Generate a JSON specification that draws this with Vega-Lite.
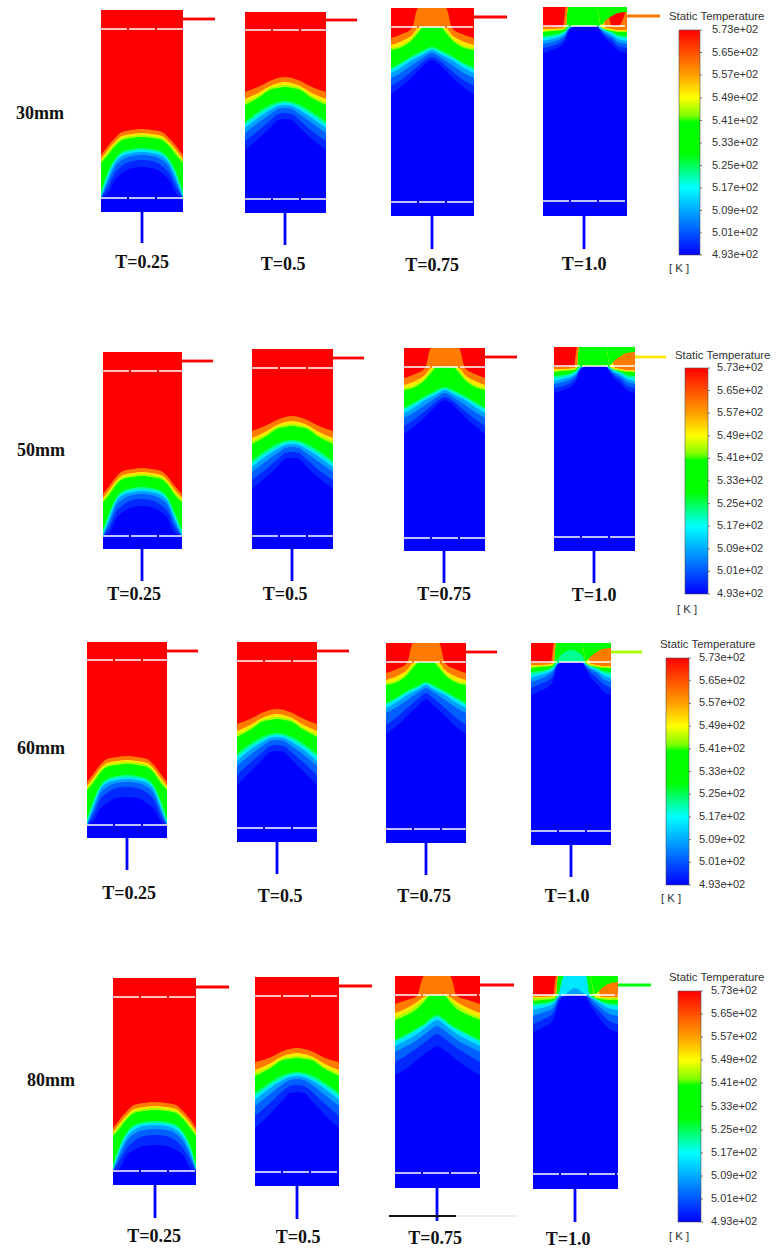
{
"$schema":"https://vega.github.io/schema/vega-lite/v6.json",
"width":782,"height":1250,"padding":0,
"autosize":{"type":"fit","contains":"padding"},
"background":"white",
"view":{"stroke":null},
"encoding":{
"x":{"field":"x","type":"quantitative","scale":{"domain":[0,782],"nice":false,"zero":false},"axis":null},
"y":{"field":"y","type":"quantitative","scale":{"domain":[0,1250],"reverse":true,"nice":false,"zero":false},"axis":null}
},
"layer":[
{"mark":{"type":"rect","color":"#0000ff"},
"data":{"values":[
{"x":101,"x2":183,"y":10,"y2":212},{"x":245,"x2":326,"y":12,"y2":213},{"x":391,"x2":474,"y":8,"y2":216},{"x":543,"x2":627,"y":7,"y2":216},
{"x":103,"x2":182,"y":352,"y2":549},{"x":252,"x2":333,"y":349,"y2":549},{"x":404,"x2":485,"y":348,"y2":551},{"x":554,"x2":635,"y":347,"y2":551},
{"x":87,"x2":167,"y":642,"y2":838},{"x":237,"x2":317,"y":642,"y2":842},{"x":386,"x2":466,"y":643,"y2":843},{"x":531,"x2":611,"y":643,"y2":845},
{"x":113,"x2":196,"y":978,"y2":1185},{"x":255,"x2":339,"y":977,"y2":1186},{"x":395,"x2":480,"y":976,"y2":1188},{"x":533,"x2":618,"y":976,"y2":1189}
]},
"encoding":{"x2":{"field":"x2"},"y2":{"field":"y2"}}},
{"mark":{"type":"area","interpolate":"monotone"},
"data":{"values":[
{"p":"a1","x":101,"top":10,"t500":198,"t507":198,"t514":198,"t520":197,"t526":196,"t535":192,"t546":163,"t552":161,"t560":159,"t573":155},
{"p":"a1","x":108,"top":10,"t500":193,"t507":187,"t514":182,"t520":178,"t526":175,"t535":172,"t546":155,"t552":152,"t560":150,"t573":146},
{"p":"a1","x":115,"top":10,"t500":180,"t507":173,"t514":167,"t520":163,"t526":161,"t535":159,"t546":146,"t552":144,"t560":142,"t573":138},
{"p":"a1","x":122,"top":10,"t500":173,"t507":166,"t514":160,"t520":156,"t526":154,"t535":152,"t546":140,"t552":138,"t560":136,"t573":132},
{"p":"a1","x":132,"top":10,"t500":168,"t507":161,"t514":156,"t520":153,"t526":151,"t535":149,"t546":138,"t552":136,"t560":134,"t573":130},
{"p":"a1","x":142,"top":10,"t500":167,"t507":160,"t514":155,"t520":152,"t526":150,"t535":148,"t546":137,"t552":135,"t560":133,"t573":129},
{"p":"a1","x":152,"top":10,"t500":168,"t507":161,"t514":156,"t520":153,"t526":151,"t535":149,"t546":138,"t552":136,"t560":134,"t573":130},
{"p":"a1","x":162,"top":10,"t500":173,"t507":166,"t514":160,"t520":156,"t526":154,"t535":152,"t546":140,"t552":138,"t560":136,"t573":132},
{"p":"a1","x":169,"top":10,"t500":180,"t507":173,"t514":167,"t520":163,"t526":161,"t535":159,"t546":146,"t552":144,"t560":142,"t573":138},
{"p":"a1","x":176,"top":10,"t500":193,"t507":187,"t514":182,"t520":178,"t526":175,"t535":172,"t546":155,"t552":152,"t560":150,"t573":146},
{"p":"a1","x":183,"top":10,"t500":198,"t507":198,"t514":198,"t520":197,"t526":196,"t535":192,"t546":163,"t552":161,"t560":159,"t573":155},
{"p":"b1","x":103,"top":352,"t500":536,"t507":536,"t514":536,"t520":535,"t526":534,"t535":530,"t546":502,"t552":500,"t560":498,"t573":494},
{"p":"b1","x":110,"top":352,"t500":532,"t507":526,"t514":521,"t520":517,"t526":514,"t535":511,"t546":494,"t552":491,"t560":489,"t573":485},
{"p":"b1","x":116,"top":352,"t500":519,"t507":512,"t514":506,"t520":502,"t526":500,"t535":498,"t546":485,"t552":483,"t560":481,"t573":477},
{"p":"b1","x":123,"top":352,"t500":512,"t507":505,"t514":499,"t520":495,"t526":493,"t535":491,"t546":479,"t552":477,"t560":475,"t573":471},
{"p":"b1","x":133,"top":352,"t500":507,"t507":500,"t514":495,"t520":492,"t526":490,"t535":488,"t546":477,"t552":475,"t560":473,"t573":469},
{"p":"b1","x":142,"top":352,"t500":506,"t507":499,"t514":494,"t520":491,"t526":489,"t535":487,"t546":476,"t552":474,"t560":472,"t573":468},
{"p":"b1","x":151,"top":352,"t500":507,"t507":500,"t514":495,"t520":492,"t526":490,"t535":488,"t546":477,"t552":475,"t560":473,"t573":469},
{"p":"b1","x":161,"top":352,"t500":512,"t507":505,"t514":499,"t520":495,"t526":493,"t535":491,"t546":479,"t552":477,"t560":475,"t573":471},
{"p":"b1","x":168,"top":352,"t500":519,"t507":512,"t514":506,"t520":502,"t526":500,"t535":498,"t546":485,"t552":483,"t560":481,"t573":477},
{"p":"b1","x":174,"top":352,"t500":532,"t507":526,"t514":521,"t520":517,"t526":514,"t535":511,"t546":494,"t552":491,"t560":489,"t573":485},
{"p":"b1","x":182,"top":352,"t500":536,"t507":536,"t514":536,"t520":535,"t526":534,"t535":530,"t546":502,"t552":500,"t560":498,"t573":494},
{"p":"c1","x":87,"top":642,"t500":825,"t507":825,"t514":825,"t520":824,"t526":823,"t535":819,"t546":790,"t552":788,"t560":786,"t573":782},
{"p":"c1","x":94,"top":642,"t500":820,"t507":814,"t514":809,"t520":805,"t526":802,"t535":799,"t546":782,"t552":779,"t560":777,"t573":773},
{"p":"c1","x":100,"top":642,"t500":809,"t507":800,"t514":794,"t520":790,"t526":788,"t535":786,"t546":773,"t552":771,"t560":769,"t573":765},
{"p":"c1","x":107,"top":642,"t500":803,"t507":793,"t514":787,"t520":783,"t526":781,"t535":779,"t546":767,"t552":765,"t560":763,"t573":759},
{"p":"c1","x":117,"top":642,"t500":798,"t507":788,"t514":783,"t520":780,"t526":778,"t535":776,"t546":765,"t552":763,"t560":761,"t573":757},
{"p":"c1","x":127,"top":642,"t500":797,"t507":787,"t514":782,"t520":779,"t526":777,"t535":775,"t546":764,"t552":762,"t560":760,"t573":756},
{"p":"c1","x":137,"top":642,"t500":798,"t507":788,"t514":783,"t520":780,"t526":778,"t535":776,"t546":765,"t552":763,"t560":761,"t573":757},
{"p":"c1","x":147,"top":642,"t500":803,"t507":793,"t514":787,"t520":783,"t526":781,"t535":779,"t546":767,"t552":765,"t560":763,"t573":759},
{"p":"c1","x":154,"top":642,"t500":809,"t507":800,"t514":794,"t520":790,"t526":788,"t535":786,"t546":773,"t552":771,"t560":769,"t573":765},
{"p":"c1","x":160,"top":642,"t500":820,"t507":814,"t514":809,"t520":805,"t526":802,"t535":799,"t546":782,"t552":779,"t560":777,"t573":773},
{"p":"c1","x":167,"top":642,"t500":825,"t507":825,"t514":825,"t520":824,"t526":823,"t535":819,"t546":790,"t552":788,"t560":786,"t573":782},
{"p":"d1","x":113,"top":978,"t500":1171,"t507":1171,"t514":1171,"t520":1170,"t526":1169,"t535":1165,"t546":1136,"t552":1134,"t560":1132,"t573":1128},
{"p":"d1","x":120,"top":978,"t500":1168,"t507":1160,"t514":1155,"t520":1151,"t526":1148,"t535":1145,"t546":1128,"t552":1125,"t560":1123,"t573":1119},
{"p":"d1","x":127,"top":978,"t500":1155,"t507":1148,"t514":1141,"t520":1137,"t526":1134,"t535":1132,"t546":1119,"t552":1117,"t560":1115,"t573":1111},
{"p":"d1","x":134,"top":978,"t500":1150,"t507":1141,"t514":1134,"t520":1130,"t526":1127,"t535":1125,"t546":1113,"t552":1111,"t560":1109,"t573":1105},
{"p":"d1","x":144,"top":978,"t500":1146,"t507":1136,"t514":1130,"t520":1126,"t526":1124,"t535":1122,"t546":1111,"t552":1109,"t560":1107,"t573":1103},
{"p":"d1","x":155,"top":978,"t500":1145,"t507":1135,"t514":1129,"t520":1125,"t526":1123,"t535":1121,"t546":1110,"t552":1108,"t560":1106,"t573":1102},
{"p":"d1","x":166,"top":978,"t500":1146,"t507":1136,"t514":1130,"t520":1126,"t526":1124,"t535":1122,"t546":1111,"t552":1109,"t560":1107,"t573":1103},
{"p":"d1","x":176,"top":978,"t500":1150,"t507":1141,"t514":1134,"t520":1130,"t526":1127,"t535":1125,"t546":1113,"t552":1111,"t560":1109,"t573":1105},
{"p":"d1","x":183,"top":978,"t500":1155,"t507":1148,"t514":1141,"t520":1137,"t526":1134,"t535":1132,"t546":1119,"t552":1117,"t560":1115,"t573":1111},
{"p":"d1","x":190,"top":978,"t500":1168,"t507":1160,"t514":1155,"t520":1151,"t526":1148,"t535":1145,"t546":1128,"t552":1125,"t560":1123,"t573":1119},
{"p":"d1","x":196,"top":978,"t500":1171,"t507":1171,"t514":1171,"t520":1170,"t526":1169,"t535":1165,"t546":1136,"t552":1134,"t560":1132,"t573":1128},
{"p":"a2","x":245,"top":12,"t500":150,"t507":141,"t514":133,"t520":128,"t526":125,"t535":122,"t546":105,"t552":102,"t560":99,"t573":92},
{"p":"a2","x":258,"top":12,"t500":139,"t507":131,"t514":123,"t520":118,"t526":115,"t535":112,"t546":98,"t552":96,"t560":93,"t573":87},
{"p":"a2","x":272,"top":12,"t500":126,"t507":119,"t514":113,"t520":109,"t526":107,"t535":104,"t546":89,"t552":87,"t560":85,"t573":80},
{"p":"a2","x":278,"top":12,"t500":120,"t507":114,"t514":109,"t520":106,"t526":104,"t535":102,"t546":88,"t552":86,"t560":83,"t573":78},
{"p":"a2","x":285,"top":12,"t500":119,"t507":113,"t514":108,"t520":105,"t526":103,"t535":101,"t546":87,"t552":85,"t560":82,"t573":77},
{"p":"a2","x":292,"top":12,"t500":120,"t507":114,"t514":109,"t520":106,"t526":104,"t535":102,"t546":88,"t552":86,"t560":83,"t573":78},
{"p":"a2","x":298,"top":12,"t500":126,"t507":119,"t514":113,"t520":109,"t526":107,"t535":104,"t546":89,"t552":87,"t560":85,"t573":80},
{"p":"a2","x":312,"top":12,"t500":139,"t507":131,"t514":123,"t520":118,"t526":115,"t535":112,"t546":98,"t552":96,"t560":93,"t573":87},
{"p":"a2","x":326,"top":12,"t500":150,"t507":141,"t514":133,"t520":128,"t526":125,"t535":122,"t546":105,"t552":102,"t560":99,"t573":92},
{"p":"b2","x":252,"top":349,"t500":489,"t507":480,"t514":472,"t520":467,"t526":464,"t535":461,"t546":444,"t552":441,"t560":438,"t573":431},
{"p":"b2","x":265,"top":349,"t500":478,"t507":470,"t514":462,"t520":457,"t526":454,"t535":451,"t546":437,"t552":435,"t560":432,"t573":426},
{"p":"b2","x":279,"top":349,"t500":465,"t507":458,"t514":452,"t520":448,"t526":446,"t535":443,"t546":428,"t552":426,"t560":424,"t573":419},
{"p":"b2","x":285,"top":349,"t500":459,"t507":453,"t514":448,"t520":445,"t526":443,"t535":441,"t546":427,"t552":425,"t560":422,"t573":417},
{"p":"b2","x":292,"top":349,"t500":458,"t507":452,"t514":447,"t520":444,"t526":442,"t535":440,"t546":426,"t552":424,"t560":421,"t573":416},
{"p":"b2","x":299,"top":349,"t500":459,"t507":453,"t514":448,"t520":445,"t526":443,"t535":441,"t546":427,"t552":425,"t560":422,"t573":417},
{"p":"b2","x":305,"top":349,"t500":465,"t507":458,"t514":452,"t520":448,"t526":446,"t535":443,"t546":428,"t552":426,"t560":424,"t573":419},
{"p":"b2","x":319,"top":349,"t500":478,"t507":470,"t514":462,"t520":457,"t526":454,"t535":451,"t546":437,"t552":435,"t560":432,"t573":426},
{"p":"b2","x":333,"top":349,"t500":489,"t507":480,"t514":472,"t520":467,"t526":464,"t535":461,"t546":444,"t552":441,"t560":438,"t573":431},
{"p":"c2","x":237,"top":642,"t500":785,"t507":775,"t514":766,"t520":761,"t526":757,"t535":754,"t546":737,"t552":734,"t560":731,"t573":724},
{"p":"c2","x":250,"top":642,"t500":772,"t507":763,"t514":755,"t520":750,"t526":747,"t535":744,"t546":730,"t552":728,"t560":725,"t573":719},
{"p":"c2","x":264,"top":642,"t500":758,"t507":751,"t514":745,"t520":741,"t526":739,"t535":736,"t546":721,"t552":719,"t560":717,"t573":712},
{"p":"c2","x":270,"top":642,"t500":752,"t507":746,"t514":741,"t520":738,"t526":736,"t535":734,"t546":720,"t552":718,"t560":715,"t573":710},
{"p":"c2","x":277,"top":642,"t500":751,"t507":745,"t514":740,"t520":737,"t526":735,"t535":733,"t546":719,"t552":717,"t560":714,"t573":709},
{"p":"c2","x":284,"top":642,"t500":752,"t507":746,"t514":741,"t520":738,"t526":736,"t535":734,"t546":720,"t552":718,"t560":715,"t573":710},
{"p":"c2","x":290,"top":642,"t500":758,"t507":751,"t514":745,"t520":741,"t526":739,"t535":736,"t546":721,"t552":719,"t560":717,"t573":712},
{"p":"c2","x":304,"top":642,"t500":772,"t507":763,"t514":755,"t520":750,"t526":747,"t535":744,"t546":730,"t552":728,"t560":725,"t573":719},
{"p":"c2","x":317,"top":642,"t500":785,"t507":775,"t514":766,"t520":761,"t526":757,"t535":754,"t546":737,"t552":734,"t560":731,"t573":724},
{"p":"d2","x":255,"top":977,"t500":1128,"t507":1116,"t514":1106,"t520":1100,"t526":1096,"t535":1093,"t546":1076,"t552":1073,"t560":1070,"t573":1062},
{"p":"d2","x":269,"top":977,"t500":1115,"t507":1104,"t514":1095,"t520":1089,"t526":1086,"t535":1083,"t546":1069,"t552":1067,"t560":1064,"t573":1058},
{"p":"d2","x":283,"top":977,"t500":1100,"t507":1091,"t514":1084,"t520":1080,"t526":1078,"t535":1075,"t546":1060,"t552":1058,"t560":1056,"t573":1051},
{"p":"d2","x":290,"top":977,"t500":1093,"t507":1086,"t514":1080,"t520":1077,"t526":1075,"t535":1073,"t546":1059,"t552":1057,"t560":1054,"t573":1049},
{"p":"d2","x":297,"top":977,"t500":1092,"t507":1085,"t514":1079,"t520":1076,"t526":1074,"t535":1072,"t546":1058,"t552":1056,"t560":1053,"t573":1048},
{"p":"d2","x":304,"top":977,"t500":1093,"t507":1086,"t514":1080,"t520":1077,"t526":1075,"t535":1073,"t546":1059,"t552":1057,"t560":1054,"t573":1049},
{"p":"d2","x":311,"top":977,"t500":1100,"t507":1091,"t514":1084,"t520":1080,"t526":1078,"t535":1075,"t546":1060,"t552":1058,"t560":1056,"t573":1051},
{"p":"d2","x":325,"top":977,"t500":1115,"t507":1104,"t514":1095,"t520":1089,"t526":1086,"t535":1083,"t546":1069,"t552":1067,"t560":1064,"t573":1058},
{"p":"d2","x":339,"top":977,"t500":1128,"t507":1116,"t514":1106,"t520":1100,"t526":1096,"t535":1093,"t546":1076,"t552":1073,"t560":1070,"t573":1062},
{"p":"a3","x":391,"top":8,"t500":94,"t507":86,"t514":78,"t520":73,"t526":70,"t535":68,"t546":50,"t552":48,"t560":45,"t573":38},
{"p":"a3","x":402,"top":8,"t500":86,"t507":79,"t514":72,"t520":67,"t526":64,"t535":62,"t546":47,"t552":45,"t560":41,"t573":34},
{"p":"a3","x":412,"top":8,"t500":77,"t507":71,"t514":65,"t520":60,"t526":58,"t535":56,"t546":40,"t552":38,"t560":35,"t573":28},
{"p":"a3","x":418,"top":8,"t500":71,"t507":66,"t514":61,"t520":57,"t526":55,"t535":53,"t546":33,"t552":30,"t560":28,"t573":8},
{"p":"a3","x":424,"top":8,"t500":65,"t507":61,"t514":57,"t520":54,"t526":52,"t535":50,"t546":27,"t552":27,"t560":27,"t573":8},
{"p":"a3","x":432,"top":8,"t500":60,"t507":57,"t514":53,"t520":50,"t526":49,"t535":47,"t546":27,"t552":27,"t560":27,"t573":8},
{"p":"a3","x":440,"top":8,"t500":65,"t507":61,"t514":57,"t520":54,"t526":52,"t535":50,"t546":27,"t552":27,"t560":27,"t573":8},
{"p":"a3","x":446,"top":8,"t500":71,"t507":66,"t514":61,"t520":57,"t526":55,"t535":53,"t546":33,"t552":30,"t560":28,"t573":8},
{"p":"a3","x":452,"top":8,"t500":77,"t507":71,"t514":65,"t520":60,"t526":58,"t535":56,"t546":40,"t552":38,"t560":35,"t573":28},
{"p":"a3","x":462,"top":8,"t500":86,"t507":79,"t514":72,"t520":67,"t526":64,"t535":62,"t546":47,"t552":45,"t560":41,"t573":34},
{"p":"a3","x":474,"top":8,"t500":94,"t507":86,"t514":78,"t520":73,"t526":70,"t535":68,"t546":50,"t552":48,"t560":45,"t573":38},
{"p":"b3","x":404,"top":348,"t500":434,"t507":426,"t514":418,"t520":413,"t526":410,"t535":408,"t546":390,"t552":388,"t560":385,"t573":378},
{"p":"b3","x":415,"top":348,"t500":426,"t507":419,"t514":412,"t520":407,"t526":404,"t535":402,"t546":387,"t552":385,"t560":381,"t573":374},
{"p":"b3","x":425,"top":348,"t500":417,"t507":411,"t514":405,"t520":400,"t526":398,"t535":396,"t546":380,"t552":378,"t560":375,"t573":368},
{"p":"b3","x":431,"top":348,"t500":411,"t507":406,"t514":401,"t520":397,"t526":395,"t535":393,"t546":373,"t552":370,"t560":368,"t573":348},
{"p":"b3","x":437,"top":348,"t500":405,"t507":401,"t514":397,"t520":394,"t526":392,"t535":390,"t546":367,"t552":367,"t560":367,"t573":348},
{"p":"b3","x":445,"top":348,"t500":400,"t507":397,"t514":393,"t520":390,"t526":389,"t535":387,"t546":367,"t552":367,"t560":367,"t573":348},
{"p":"b3","x":453,"top":348,"t500":405,"t507":401,"t514":397,"t520":394,"t526":392,"t535":390,"t546":367,"t552":367,"t560":367,"t573":348},
{"p":"b3","x":459,"top":348,"t500":411,"t507":406,"t514":401,"t520":397,"t526":395,"t535":393,"t546":373,"t552":370,"t560":368,"t573":348},
{"p":"b3","x":465,"top":348,"t500":417,"t507":411,"t514":405,"t520":400,"t526":398,"t535":396,"t546":380,"t552":378,"t560":375,"t573":368},
{"p":"b3","x":475,"top":348,"t500":426,"t507":419,"t514":412,"t520":407,"t526":404,"t535":402,"t546":387,"t552":385,"t560":381,"t573":374},
{"p":"b3","x":485,"top":348,"t500":434,"t507":426,"t514":418,"t520":413,"t526":410,"t535":408,"t546":390,"t552":388,"t560":385,"t573":378},
{"p":"c3","x":386,"top":643,"t500":734,"t507":725,"t514":713,"t520":708,"t526":705,"t535":703,"t546":685,"t552":683,"t560":680,"t573":673},
{"p":"c3","x":397,"top":643,"t500":726,"t507":717,"t514":707,"t520":702,"t526":699,"t535":697,"t546":682,"t552":680,"t560":676,"t573":669},
{"p":"c3","x":407,"top":643,"t500":716,"t507":708,"t514":700,"t520":695,"t526":693,"t535":691,"t546":675,"t552":673,"t560":670,"t573":663},
{"p":"c3","x":413,"top":643,"t500":710,"t507":703,"t514":696,"t520":692,"t526":690,"t535":688,"t546":668,"t552":665,"t560":663,"t573":643},
{"p":"c3","x":419,"top":643,"t500":705,"t507":698,"t514":692,"t520":689,"t526":687,"t535":685,"t546":662,"t552":662,"t560":662,"t573":643},
{"p":"c3","x":426,"top":643,"t500":699,"t507":693,"t514":688,"t520":685,"t526":684,"t535":682,"t546":662,"t552":662,"t560":662,"t573":643},
{"p":"c3","x":433,"top":643,"t500":705,"t507":698,"t514":692,"t520":689,"t526":687,"t535":685,"t546":662,"t552":662,"t560":662,"t573":643},
{"p":"c3","x":439,"top":643,"t500":710,"t507":703,"t514":696,"t520":692,"t526":690,"t535":688,"t546":668,"t552":665,"t560":663,"t573":643},
{"p":"c3","x":445,"top":643,"t500":716,"t507":708,"t514":700,"t520":695,"t526":693,"t535":691,"t546":675,"t552":673,"t560":670,"t573":663},
{"p":"c3","x":455,"top":643,"t500":726,"t507":717,"t514":707,"t520":702,"t526":699,"t535":697,"t546":682,"t552":680,"t560":676,"t573":669},
{"p":"c3","x":466,"top":643,"t500":734,"t507":725,"t514":713,"t520":708,"t526":705,"t535":703,"t546":685,"t552":683,"t560":680,"t573":673},
{"p":"d3","x":395,"top":976,"t500":1075,"t507":1062,"t514":1052,"t520":1046,"t526":1042,"t535":1040,"t546":1020,"t552":1017,"t560":1013,"t573":1004},
{"p":"d3","x":407,"top":976,"t500":1068,"t507":1055,"t514":1046,"t520":1040,"t526":1036,"t535":1034,"t546":1015,"t552":1012,"t560":1008,"t573":1000},
{"p":"d3","x":417,"top":976,"t500":1060,"t507":1048,"t514":1040,"t520":1034,"t526":1030,"t535":1028,"t546":1009,"t552":1005,"t560":1002,"t573":996},
{"p":"d3","x":424,"top":976,"t500":1054,"t507":1043,"t514":1035,"t520":1029,"t526":1026,"t535":1024,"t546":1002,"t552":999,"t560":997,"t573":976},
{"p":"d3","x":430,"top":976,"t500":1050,"t507":1038,"t514":1030,"t520":1024,"t526":1021,"t535":1019,"t546":995,"t552":995,"t560":995,"t573":976},
{"p":"d3","x":437,"top":976,"t500":1046,"t507":1034,"t514":1026,"t520":1020,"t526":1017,"t535":1015,"t546":995,"t552":995,"t560":995,"t573":976},
{"p":"d3","x":444,"top":976,"t500":1050,"t507":1038,"t514":1030,"t520":1024,"t526":1021,"t535":1019,"t546":995,"t552":995,"t560":995,"t573":976},
{"p":"d3","x":450,"top":976,"t500":1054,"t507":1043,"t514":1035,"t520":1029,"t526":1026,"t535":1024,"t546":1002,"t552":999,"t560":997,"t573":976},
{"p":"d3","x":457,"top":976,"t500":1060,"t507":1048,"t514":1040,"t520":1034,"t526":1030,"t535":1028,"t546":1009,"t552":1005,"t560":1002,"t573":996},
{"p":"d3","x":468,"top":976,"t500":1068,"t507":1055,"t514":1046,"t520":1040,"t526":1036,"t535":1034,"t546":1015,"t552":1012,"t560":1008,"t573":1000},
{"p":"d3","x":480,"top":976,"t500":1075,"t507":1062,"t514":1052,"t520":1046,"t526":1042,"t535":1040,"t546":1020,"t552":1017,"t560":1013,"t573":1004},
{"p":"a4","x":543,"top":7,"t500":53,"t507":48,"t514":44,"t520":41,"t526":38,"t535":36,"t546":32,"t552":31,"t560":29,"t573":27,"t535b":7},
{"p":"a4","x":552,"top":7,"t500":50,"t507":46,"t514":42,"t520":39,"t526":37,"t535":35,"t546":31,"t552":30,"t560":29,"t573":27,"t535b":7},
{"p":"a4","x":563,"top":7,"t500":44,"t507":40,"t514":37,"t520":35,"t526":33,"t535":32,"t546":30,"t552":29,"t560":28,"t573":26,"t535b":7},
{"p":"a4","x":566,"top":7,"t500":39,"t507":36,"t514":34,"t520":32,"t526":31,"t535":30,"t546":28,"t552":27,"t560":26,"t573":7,"t535b":7},
{"p":"a4","x":568,"top":7,"t500":33,"t507":31,"t514":30,"t520":29,"t526":28,"t535":27,"t546":7,"t552":7,"t560":7,"t573":7,"t535b":7},
{"p":"a4","x":574,"top":7,"t500":27,"t507":26,"t514":26,"t520":26,"t526":26,"t535":26,"t546":7,"t552":7,"t560":7,"t573":7,"t535b":7},
{"p":"a4","x":585,"top":7,"t500":26,"t507":26,"t514":26,"t520":26,"t526":26,"t535":26,"t546":7,"t552":7,"t560":7,"t573":7,"t535b":7},
{"p":"a4","x":597,"top":7,"t500":27,"t507":26,"t514":26,"t520":26,"t526":26,"t535":26,"t546":7,"t552":7,"t560":7,"t573":7,"t535b":7},
{"p":"a4","x":601,"top":7,"t500":33,"t507":31,"t514":30,"t520":29,"t526":28,"t535":27,"t546":27,"t552":26,"t560":7,"t573":7,"t535b":25},
{"p":"a4","x":606,"top":7,"t500":39,"t507":36,"t514":34,"t520":32,"t526":31,"t535":30,"t546":30,"t552":29,"t560":28,"t573":7,"t535b":20},
{"p":"a4","x":612,"top":7,"t500":44,"t507":40,"t514":37,"t520":35,"t526":33,"t535":32,"t546":31,"t552":30,"t560":29,"t573":26,"t535b":16},
{"p":"a4","x":618,"top":7,"t500":50,"t507":46,"t514":42,"t520":39,"t526":37,"t535":35,"t546":32,"t552":31,"t560":30,"t573":26,"t535b":13},
{"p":"a4","x":627,"top":7,"t500":53,"t507":48,"t514":44,"t520":41,"t526":38,"t535":36,"t546":32,"t552":31,"t560":30,"t573":7,"t535b":12},
{"p":"b4","x":554,"top":347,"t500":393,"t507":388,"t514":384,"t520":381,"t526":378,"t535":376,"t546":372,"t552":371,"t560":369,"t573":367,"t535b":347},
{"p":"b4","x":563,"top":347,"t500":390,"t507":386,"t514":382,"t520":379,"t526":377,"t535":375,"t546":371,"t552":370,"t560":369,"t573":367,"t535b":347},
{"p":"b4","x":574,"top":347,"t500":384,"t507":380,"t514":377,"t520":375,"t526":373,"t535":372,"t546":370,"t552":369,"t560":368,"t573":366,"t535b":347},
{"p":"b4","x":577,"top":347,"t500":379,"t507":376,"t514":374,"t520":372,"t526":371,"t535":370,"t546":368,"t552":367,"t560":366,"t573":347,"t535b":347},
{"p":"b4","x":579,"top":347,"t500":373,"t507":371,"t514":370,"t520":369,"t526":368,"t535":367,"t546":347,"t552":347,"t560":347,"t573":347,"t535b":347},
{"p":"b4","x":585,"top":347,"t500":367,"t507":366,"t514":366,"t520":366,"t526":366,"t535":366,"t546":347,"t552":347,"t560":347,"t573":347,"t535b":347},
{"p":"b4","x":595,"top":347,"t500":366,"t507":366,"t514":366,"t520":366,"t526":366,"t535":366,"t546":347,"t552":347,"t560":347,"t573":347,"t535b":347},
{"p":"b4","x":606,"top":347,"t500":367,"t507":366,"t514":366,"t520":366,"t526":366,"t535":366,"t546":347,"t552":347,"t560":347,"t573":347,"t535b":347},
{"p":"b4","x":610,"top":347,"t500":373,"t507":371,"t514":370,"t520":369,"t526":368,"t535":367,"t546":367,"t552":366,"t560":347,"t573":347,"t535b":365},
{"p":"b4","x":615,"top":347,"t500":379,"t507":376,"t514":374,"t520":372,"t526":371,"t535":370,"t546":370,"t552":369,"t560":368,"t573":347,"t535b":360},
{"p":"b4","x":621,"top":347,"t500":384,"t507":380,"t514":377,"t520":375,"t526":373,"t535":372,"t546":371,"t552":370,"t560":369,"t573":347,"t535b":356},
{"p":"b4","x":627,"top":347,"t500":390,"t507":386,"t514":382,"t520":379,"t526":377,"t535":375,"t546":372,"t552":371,"t560":370,"t573":347,"t535b":353},
{"p":"b4","x":635,"top":347,"t500":393,"t507":388,"t514":384,"t520":381,"t526":378,"t535":376,"t546":372,"t552":371,"t560":370,"t573":347,"t535b":352},
{"p":"c4","x":531,"top":643,"t500":695,"t507":688,"t514":682,"t520":678,"t526":675,"t535":672,"t546":668,"t552":667,"t560":665,"t573":663,"t535b":643},
{"p":"c4","x":540,"top":643,"t500":691,"t507":684,"t514":679,"t520":675,"t526":673,"t535":671,"t546":667,"t552":666,"t560":665,"t573":663,"t535b":643},
{"p":"c4","x":551,"top":643,"t500":684,"t507":678,"t514":673,"t520":671,"t526":669,"t535":668,"t546":666,"t552":665,"t560":664,"t573":662,"t535b":643},
{"p":"c4","x":554,"top":643,"t500":678,"t507":673,"t514":670,"t520":668,"t526":667,"t535":666,"t546":664,"t552":663,"t560":662,"t573":643,"t535b":643},
{"p":"c4","x":556,"top":643,"t500":670,"t507":667,"t514":666,"t520":665,"t526":664,"t535":663,"t546":643,"t552":643,"t560":643,"t573":643,"t535b":643},
{"p":"c4","x":561,"top":643,"t500":663,"t507":662,"t514":662,"t520":662,"t526":662,"t535":655,"t546":643,"t552":643,"t560":643,"t573":643,"t535b":643},
{"p":"c4","x":571,"top":643,"t500":662,"t507":662,"t514":662,"t520":662,"t526":662,"t535":650,"t546":643,"t552":643,"t560":643,"t573":643,"t535b":643},
{"p":"c4","x":582,"top":643,"t500":663,"t507":662,"t514":662,"t520":662,"t526":662,"t535":655,"t546":643,"t552":643,"t560":643,"t573":643,"t535b":643},
{"p":"c4","x":586,"top":643,"t500":670,"t507":667,"t514":666,"t520":665,"t526":664,"t535":663,"t546":663,"t552":662,"t560":643,"t573":643,"t535b":661},
{"p":"c4","x":591,"top":643,"t500":678,"t507":673,"t514":670,"t520":668,"t526":667,"t535":666,"t546":666,"t552":665,"t560":664,"t573":643,"t535b":656},
{"p":"c4","x":597,"top":643,"t500":684,"t507":678,"t514":673,"t520":671,"t526":669,"t535":668,"t546":667,"t552":666,"t560":665,"t573":643,"t535b":652},
{"p":"c4","x":603,"top":643,"t500":691,"t507":684,"t514":679,"t520":675,"t526":673,"t535":671,"t546":668,"t552":667,"t560":666,"t573":643,"t535b":649},
{"p":"c4","x":611,"top":643,"t500":695,"t507":688,"t514":682,"t520":678,"t526":675,"t535":672,"t546":668,"t552":667,"t560":666,"t573":643,"t535b":648},
{"p":"d4","x":533,"top":976,"t500":1032,"t507":1024,"t514":1016,"t520":1010,"t526":1006,"t535":1004,"t546":1001,"t552":998,"t560":997,"t573":995,"t535b":976},
{"p":"d4","x":542,"top":976,"t500":1028,"t507":1020,"t514":1013,"t520":1008,"t526":1005,"t535":1003,"t546":1000,"t552":998,"t560":997,"t573":995,"t535b":976},
{"p":"d4","x":553,"top":976,"t500":1020,"t507":1013,"t514":1008,"t520":1004,"t526":1002,"t535":1001,"t546":999,"t552":997,"t560":996,"t573":995,"t535b":976},
{"p":"d4","x":556,"top":976,"t500":1012,"t507":1007,"t514":1003,"t520":1000,"t526":999,"t535":998,"t546":996,"t552":995,"t560":994,"t573":976,"t535b":976},
{"p":"d4","x":558,"top":976,"t500":1005,"t507":1001,"t514":998,"t520":997,"t526":996,"t535":995,"t546":976,"t552":976,"t560":976,"t573":976,"t535b":976},
{"p":"d4","x":564,"top":976,"t500":997,"t507":995,"t514":995,"t520":995,"t526":976,"t535":976,"t546":976,"t552":976,"t560":976,"t573":976,"t535b":976},
{"p":"d4","x":575,"top":976,"t500":995,"t507":995,"t514":995,"t520":988,"t526":976,"t535":976,"t546":976,"t552":976,"t560":976,"t573":976,"t535b":976},
{"p":"d4","x":586,"top":976,"t500":997,"t507":995,"t514":995,"t520":995,"t526":976,"t535":976,"t546":976,"t552":976,"t560":976,"t573":976,"t535b":976},
{"p":"d4","x":590,"top":976,"t500":1005,"t507":1001,"t514":998,"t520":997,"t526":996,"t535":995,"t546":976,"t552":976,"t560":976,"t573":976,"t535b":976},
{"p":"d4","x":595,"top":976,"t500":1012,"t507":1007,"t514":1003,"t520":1000,"t526":999,"t535":998,"t546":998,"t552":996,"t560":976,"t573":976,"t535b":994},
{"p":"d4","x":601,"top":976,"t500":1020,"t507":1013,"t514":1008,"t520":1004,"t526":1002,"t535":1001,"t546":999,"t552":998,"t560":997,"t573":976,"t535b":989},
{"p":"d4","x":608,"top":976,"t500":1028,"t507":1020,"t514":1013,"t520":1008,"t526":1005,"t535":1003,"t546":1000,"t552":998,"t560":997,"t573":976,"t535b":984},
{"p":"d4","x":618,"top":976,"t500":1032,"t507":1024,"t514":1016,"t520":1010,"t526":1006,"t535":1004,"t546":1000,"t552":998,"t560":997,"t573":976,"t535b":982}
]},
"transform":[{"fold":["t500","t507","t514","t520","t526","t535","t546","t552","t560","t573","t535b"],"as":["k","y"]}],
"encoding":{
"y2":{"field":"top"},
"y":{"field":"y","type":"quantitative","stack":null},
"detail":{"field":"p"},
"color":{"field":"k","type":"nominal","legend":null,"scale":{
"domain":["t500","t507","t514","t520","t526","t535","t546","t552","t560","t573","t535b"],
"range":["#0028ff","#0060ff","#00a0ff","#00e8ff","#00ff90","#00ff00","#a8ff00","#ffe800","#ff7a00","#ff0000","#00ff00"]}}
}},
{"mark":{"type":"rule","color":"#ffffff","strokeWidth":1.5,"strokeDash":[26,2]},
"data":{"values":[
{"x":101,"x2":183,"y":29},{"x":101,"x2":183,"y":198},{"x":245,"x2":326,"y":30},{"x":245,"x2":326,"y":199},{"x":391,"x2":474,"y":27},{"x":391,"x2":474,"y":202},{"x":543,"x2":627,"y":26},{"x":543,"x2":627,"y":201},
{"x":103,"x2":182,"y":371},{"x":103,"x2":182,"y":536},{"x":252,"x2":333,"y":368},{"x":252,"x2":333,"y":536},{"x":404,"x2":485,"y":367},{"x":404,"x2":485,"y":538},{"x":554,"x2":635,"y":366},{"x":554,"x2":635,"y":537},
{"x":87,"x2":167,"y":660},{"x":87,"x2":167,"y":825},{"x":237,"x2":317,"y":661},{"x":237,"x2":317,"y":828},{"x":386,"x2":466,"y":662},{"x":386,"x2":466,"y":829},{"x":531,"x2":611,"y":662},{"x":531,"x2":611,"y":831},
{"x":113,"x2":196,"y":997},{"x":113,"x2":196,"y":1171},{"x":255,"x2":339,"y":996},{"x":255,"x2":339,"y":1172},{"x":395,"x2":480,"y":995},{"x":395,"x2":480,"y":1173},{"x":533,"x2":618,"y":995},{"x":533,"x2":618,"y":1174}
]},
"encoding":{"x2":{"field":"x2"}}},
{"mark":{"type":"rule","strokeWidth":2.8},
"data":{"values":[
{"x":183,"x2":215,"y":19,"k":"t573"},{"x":326,"x2":357,"y":20,"k":"t573"},{"x":474,"x2":507,"y":17,"k":"t573"},{"x":627,"x2":660,"y":16,"k":"t560"},
{"x":182,"x2":213,"y":361,"k":"t573"},{"x":333,"x2":364,"y":358,"k":"t573"},{"x":485,"x2":517,"y":357,"k":"t573"},{"x":635,"x2":666,"y":357,"k":"t552"},
{"x":167,"x2":198,"y":651,"k":"t573"},{"x":317,"x2":349,"y":651,"k":"t573"},{"x":466,"x2":497,"y":652,"k":"t573"},{"x":611,"x2":642,"y":652,"k":"t546"},
{"x":196,"x2":229,"y":987,"k":"t573"},{"x":339,"x2":372,"y":986,"k":"t573"},{"x":480,"x2":514,"y":985,"k":"t573"},{"x":618,"x2":651,"y":985,"k":"t535"}
]},
"encoding":{"x2":{"field":"x2"},"color":{"field":"k","type":"nominal","legend":null}}},
{"mark":{"type":"rule","color":"#0000ff","strokeWidth":2.8},
"data":{"values":[
{"x":142,"y":212,"y2":243},{"x":285,"y":213,"y2":245},{"x":432,"y":216,"y2":249},{"x":584,"y":216,"y2":249},
{"x":142,"y":549,"y2":581},{"x":292,"y":549,"y2":581},{"x":444,"y":551,"y2":583},{"x":594,"y":551,"y2":583},
{"x":127,"y":838,"y2":870},{"x":277,"y":842,"y2":874},{"x":426,"y":843,"y2":875},{"x":571,"y":845,"y2":877},
{"x":155,"y":1185,"y2":1218},{"x":297,"y":1186,"y2":1219},{"x":437,"y":1188,"y2":1221},{"x":575,"y":1189,"y2":1222}
]},
"encoding":{"y2":{"field":"y2"}}},
{"mark":{"type":"rule","color":"#dddddd","strokeWidth":1},
"data":{"values":[{"x":456,"x2":517,"y":1216}]},
"encoding":{"x2":{"field":"x2"}}},
{"mark":{"type":"rule","color":"#111111","strokeWidth":2},
"data":{"values":[{"x":389,"x2":456,"y":1216}]},
"encoding":{"x2":{"field":"x2"}}},
{"mark":{"type":"rect","stroke":"#555555","strokeWidth":0.6,
"color":{"gradient":"linear","x1":0,"y1":0,"x2":0,"y2":1,"stops":[
{"offset":0,"color":"#ff0000"},{"offset":0.1,"color":"#ff5000"},{"offset":0.2,"color":"#ffa000"},{"offset":0.3,"color":"#ffff00"},{"offset":0.38,"color":"#80ff00"},{"offset":0.41,"color":"#00ff00"},{"offset":0.55,"color":"#00ff00"},{"offset":0.7,"color":"#00ffff"},{"offset":0.85,"color":"#0080ff"},{"offset":1,"color":"#0000ff"}]}},
"data":{"values":[
{"x":679,"x2":700,"y":30,"y2":255},{"x":685,"x2":708,"y":368,"y2":594},{"x":666,"x2":689,"y":658,"y2":885},{"x":678,"x2":701,"y":991,"y2":1222}
]},
"encoding":{"x2":{"field":"x2"},"y2":{"field":"y2"}}},
{"data":{"values":[
{"x":712,"a":700,"b":702,"y":30,"s":"5.73e+02"},{"x":712,"a":700,"b":702,"y":52.5,"s":"5.65e+02"},{"x":712,"a":700,"b":702,"y":75,"s":"5.57e+02"},{"x":712,"a":700,"b":702,"y":98,"s":"5.49e+02"},{"x":712,"a":700,"b":702,"y":120.5,"s":"5.41e+02"},{"x":712,"a":700,"b":702,"y":143,"s":"5.33e+02"},{"x":712,"a":700,"b":702,"y":165.5,"s":"5.25e+02"},{"x":712,"a":700,"b":702,"y":188,"s":"5.17e+02"},{"x":712,"a":700,"b":702,"y":210.5,"s":"5.09e+02"},{"x":712,"a":700,"b":702,"y":233,"s":"5.01e+02"},{"x":712,"a":700,"b":702,"y":255,"s":"4.93e+02"},
{"x":717,"a":708,"b":710,"y":368,"s":"5.73e+02"},{"x":717,"a":708,"b":710,"y":390.6,"s":"5.65e+02"},{"x":717,"a":708,"b":710,"y":413.2,"s":"5.57e+02"},{"x":717,"a":708,"b":710,"y":435.8,"s":"5.49e+02"},{"x":717,"a":708,"b":710,"y":458.4,"s":"5.41e+02"},{"x":717,"a":708,"b":710,"y":481,"s":"5.33e+02"},{"x":717,"a":708,"b":710,"y":503.6,"s":"5.25e+02"},{"x":717,"a":708,"b":710,"y":526.2,"s":"5.17e+02"},{"x":717,"a":708,"b":710,"y":548.8,"s":"5.09e+02"},{"x":717,"a":708,"b":710,"y":571.4,"s":"5.01e+02"},{"x":717,"a":708,"b":710,"y":594,"s":"4.93e+02"},
{"x":699,"a":689,"b":691,"y":658,"s":"5.73e+02"},{"x":699,"a":689,"b":691,"y":680.7,"s":"5.65e+02"},{"x":699,"a":689,"b":691,"y":703.4,"s":"5.57e+02"},{"x":699,"a":689,"b":691,"y":726.1,"s":"5.49e+02"},{"x":699,"a":689,"b":691,"y":748.8,"s":"5.41e+02"},{"x":699,"a":689,"b":691,"y":771.5,"s":"5.33e+02"},{"x":699,"a":689,"b":691,"y":794.2,"s":"5.25e+02"},{"x":699,"a":689,"b":691,"y":816.9,"s":"5.17e+02"},{"x":699,"a":689,"b":691,"y":839.6,"s":"5.09e+02"},{"x":699,"a":689,"b":691,"y":862.3,"s":"5.01e+02"},{"x":699,"a":689,"b":691,"y":885,"s":"4.93e+02"},
{"x":711,"a":701,"b":703,"y":991,"s":"5.73e+02"},{"x":711,"a":701,"b":703,"y":1014,"s":"5.65e+02"},{"x":711,"a":701,"b":703,"y":1037,"s":"5.57e+02"},{"x":711,"a":701,"b":703,"y":1060,"s":"5.49e+02"},{"x":711,"a":701,"b":703,"y":1083,"s":"5.41e+02"},{"x":711,"a":701,"b":703,"y":1106.5,"s":"5.33e+02"},{"x":711,"a":701,"b":703,"y":1130,"s":"5.25e+02"},{"x":711,"a":701,"b":703,"y":1153,"s":"5.17e+02"},{"x":711,"a":701,"b":703,"y":1176,"s":"5.09e+02"},{"x":711,"a":701,"b":703,"y":1199,"s":"5.01e+02"},{"x":711,"a":701,"b":703,"y":1222,"s":"4.93e+02"}
]},
"layer":[
{"mark":{"type":"rule","color":"#555555","strokeWidth":0.8},"encoding":{"x":{"field":"a","type":"quantitative"},"x2":{"field":"b"}}},
{"mark":{"type":"text","align":"left","baseline":"middle","font":"Liberation Sans","fontSize":11,"fill":"#333333"},"encoding":{"text":{"field":"s"}}}
]},
{"mark":{"type":"text","align":"left","baseline":"middle","font":"Liberation Sans","fontSize":11.4,"fill":"#333333"},
"data":{"values":[
{"x":669,"y":17,"s":"Static Temperature"},{"x":669,"y":269,"s":"[ K ]"},
{"x":675,"y":356,"s":"Static Temperature"},{"x":677,"y":610,"s":"[ K ]"},
{"x":660,"y":645,"s":"Static Temperature"},{"x":661,"y":899,"s":"[ K ]"},
{"x":669,"y":978,"s":"Static Temperature"},{"x":669,"y":1237,"s":"[ K ]"}
]},
"encoding":{"text":{"field":"s"}}},
{"mark":{"type":"text","align":"center","baseline":"middle","font":"Liberation Serif","fontWeight":"bold","fontSize":18,"fill":"#111111"},
"data":{"values":[
{"x":142,"y":263,"s":"T=0.25"},{"x":283,"y":265,"s":"T=0.5"},{"x":432,"y":266,"s":"T=0.75"},{"x":584,"y":265,"s":"T=1.0"},
{"x":134,"y":595,"s":"T=0.25"},{"x":285,"y":595,"s":"T=0.5"},{"x":444,"y":595,"s":"T=0.75"},{"x":594,"y":596,"s":"T=1.0"},
{"x":129,"y":894,"s":"T=0.25"},{"x":280,"y":897,"s":"T=0.5"},{"x":424,"y":897,"s":"T=0.75"},{"x":567,"y":897,"s":"T=1.0"},
{"x":154,"y":1237,"s":"T=0.25"},{"x":298,"y":1238,"s":"T=0.5"},{"x":435,"y":1239,"s":"T=0.75"},{"x":568,"y":1240,"s":"T=1.0"}
]},
"encoding":{"text":{"field":"s"}}},
{"mark":{"type":"text","align":"left","baseline":"middle","font":"Liberation Serif","fontWeight":"bold","fontSize":18,"fill":"#111111"},
"data":{"values":[
{"x":16,"y":114,"s":"30mm"},{"x":17,"y":451,"s":"50mm"},{"x":17,"y":749,"s":"60mm"},{"x":27,"y":1081,"s":"80mm"}
]},
"encoding":{"text":{"field":"s"}}}
]
}
